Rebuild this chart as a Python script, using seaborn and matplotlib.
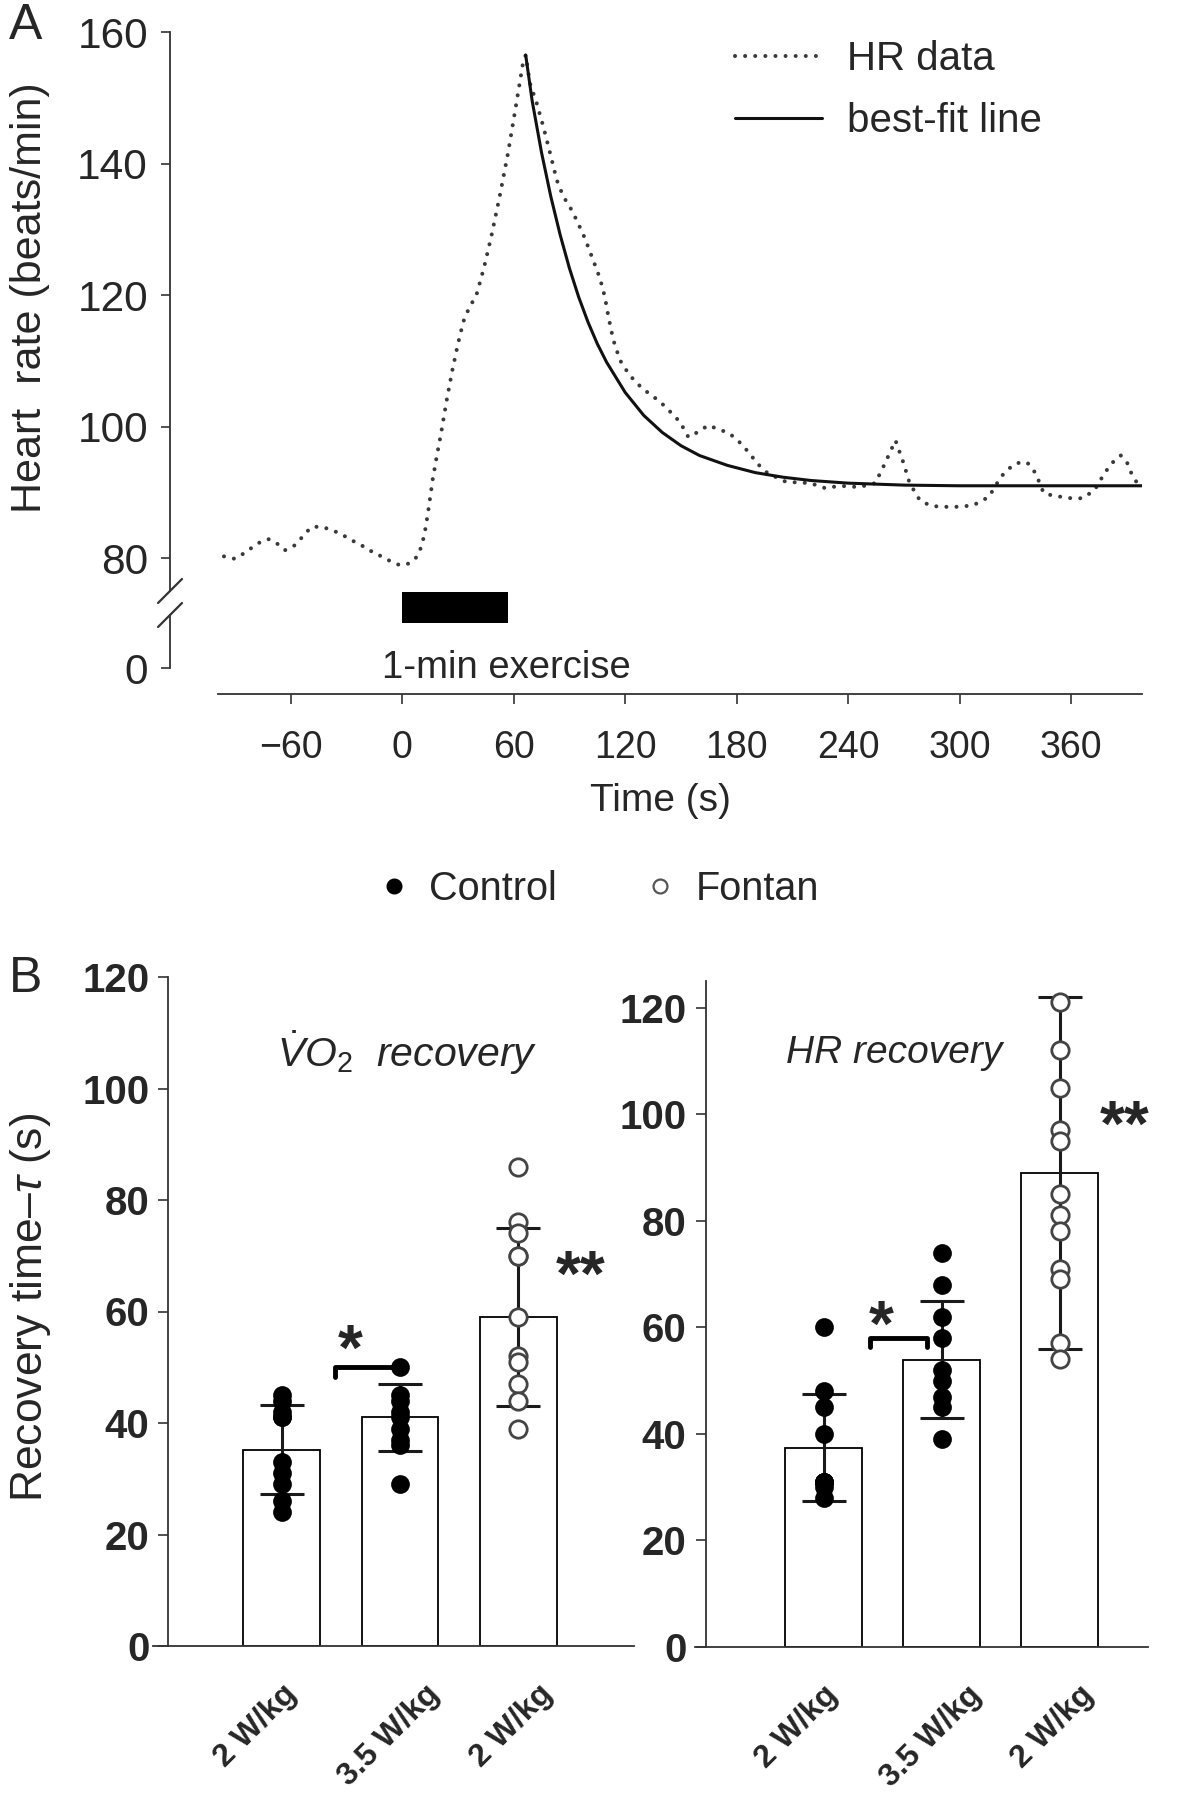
import numpy as np
import pandas as pd
import matplotlib.pyplot as plt
import matplotlib.transforms as mtransforms
from matplotlib.lines import Line2D
import seaborn as sns

# =========================
# Dados
# =========================

# Painel A - frequência cardíaca
hr_time = [-101, -95, -90, -84, -78, -72, -68, -63, -58, -53, -49, -44, -39, -33, -27,
           -22, -18, -14, -11, -6, -1, 4, 8, 10, 12, 14, 16.5, 19, 21, 24, 27, 30, 33,
           36, 40, 44, 48, 52.5, 57, 61.5, 65, 66.5, 68.8, 72.4, 76, 79.6, 83.2, 86.7,
           90.3, 93.9, 98.4, 102.8, 106.5, 109.1, 111, 113.6, 117.2, 121.7, 126.2, 131.6,
           138.7, 144.1, 149.5, 154, 159.3, 164.7, 169.2, 176, 182, 187, 191, 196.7,
           206.5, 219.6, 228, 235, 245.8, 254.5, 258.9, 265.4, 269.8, 273, 278.5, 284,
           289.5, 298, 307, 315.6, 322.2, 328.7, 333, 336.4, 340.8, 345.1, 350, 355, 360,
           365.9, 372.4, 377.8, 382, 386.6, 390, 393, 396.5]
hr_bpm = [80.7, 80.2, 79.9, 80.9, 82.2, 82.9, 82.4, 81.2, 81.9, 83.4, 84.7, 84.8, 84.4,
          83.7, 82.7, 82.0, 81.2, 80.8, 80.2, 79.5, 78.9, 79.2, 80.2, 81.5, 83.5, 87, 92,
          96, 99, 104, 108.5, 112.5, 116, 118, 120, 124.1, 128.9, 135, 141.6, 149.2,
          155.2, 156.5, 152.2, 149.2, 145.6, 141.6, 137.5, 135, 133.4, 131.4, 128.6,
          125.3, 122.5, 119.7, 116.7, 113.2, 110.1, 108.1, 106.6, 105.3, 103.8, 102.3,
          100.7, 98.4, 99.2, 100.2, 99.7, 99, 97.5, 95.9, 94.4, 92.9, 91.6, 91.4, 90.6,
          91, 90.8, 91.4, 93.9, 97.9, 94.4, 91.4, 88.8, 88.0, 87.8, 87.8, 88, 89.3, 92.4,
          94.2, 94.6, 94.5, 92.9, 89.9, 89.5, 89.3, 89.1, 89.1, 90.3, 92.9, 94.5, 95.6,
          94.5, 92.4, 91]

fit_time = [66.5, 70, 75, 80, 85, 90, 95, 100, 105, 110, 120, 130, 140, 150, 160, 175,
            190, 205, 220, 240, 270, 300, 350, 398]
fit_bpm = [156.5, 149.5, 141.7, 135, 129.2, 124.1, 119.7, 115.9, 112.6, 109.8, 105.2,
           101.7, 99.1, 97.1, 95.6, 94.1, 93.0, 92.3, 91.8, 91.4, 91.1, 91.0, 91.0, 91.0]

exercise_start = 0
exercise_end = 57
time_ticks = [-60, 0, 60, 120, 180, 240, 300, 360]
hr_ticks = [80, 100, 120, 140, 160]

# Painel B - tempos de recuperação
conditions = ["ctrl_2", "ctrl_35", "fontan_2"]
condition_labels = ["2 W/kg", "3.5 W/kg", "2 W/kg"]
condition_group = ["Control", "Control", "Fontan"]

vo2_means = [35.2, 41.0, 59.0]
vo2_sds = [8.0, 6.0, 16.0]
vo2_ctrl_2 = [45, 44, 42, 41, 41, 33, 31, 29, 26, 24]
vo2_ctrl_35 = [50, 45, 44, 42, 41, 39, 37, 36, 29]
vo2_fontan_2 = [86, 76, 74, 70, 70, 59, 52, 51, 47, 44, 39]

hrr_means = [37.4, 53.9, 89.0]
hrr_sds = [10.0, 11.0, 33.0]
hrr_ctrl_2 = [60, 48, 45, 40, 31, 31, 31, 31, 30, 28]
hrr_ctrl_35 = [74, 68, 62, 58, 52, 50, 47, 45, 39]
hrr_fontan_2 = [121, 112, 105, 97, 95, 85, 81, 78, 71, 69, 57, 54]

tau_ticks = [0, 20, 40, 60, 80, 100, 120]

# =========================
# Estilo
# =========================

sns.set_style("ticks")
plt.rcParams["font.family"] = ["Liberation Sans", "DejaVu Sans"]
plt.rcParams["mathtext.fontset"] = "custom"
plt.rcParams["mathtext.rm"] = "Liberation Sans"
plt.rcParams["mathtext.it"] = "Liberation Sans:italic"
plt.rcParams["mathtext.bf"] = "Liberation Sans:bold"

W, H = 1182, 1800
DPI = 100
fig = plt.figure(figsize=(W / DPI, H / DPI), dpi=DPI)

axis_color = "#333333"
px = 72 / DPI  # pixel -> pontos


def fig_box(x0, y0, x1, y1):
    # caixa em pixels a partir do canto superior esquerdo
    return [x0 / W, 1 - y1 / H, (x1 - x0) / W, (y1 - y0) / H]


# =========================
# Painel A
# =========================

ax_top = fig.add_axes(fig_box(218, 32, 1142, 591))
ax_bot = fig.add_axes(fig_box(218, 591, 1142, 694))

sns.lineplot(x=hr_time, y=hr_bpm, ax=ax_top, color="#3a3a3a", linewidth=2.9,
             linestyle=(0, (0.01, 2.5)), dash_capstyle="round", sort=False,
             errorbar=None, label="HR data")
sns.lineplot(x=fit_time, y=fit_bpm, ax=ax_top, color="#111111", linewidth=2.2,
             sort=False, errorbar=None, label="best-fit line")

ax_top.set_xlim(-99, 398)
ax_top.set_ylim(75, 160)
ax_top.set_yticks(hr_ticks)
ax_top.set_xticks([])
for s in ["top", "right", "bottom"]:
    ax_top.spines[s].set_visible(False)
ax_top.spines["left"].set_position(("outward", 48 * px))
ax_top.spines["left"].set_color(axis_color)
ax_top.spines["left"].set_linewidth(1.3)
ax_top.tick_params(axis="y", direction="out", length=9 * px, width=1.2,
                   pad=13 * px, labelsize=30.5, color=axis_color)
ax_top.set_xlabel("")
ax_top.set_ylabel("")

ax_top.legend(handles=ax_top.get_lines()[:2], labels=["HR data", "best-fit line"],
              loc="upper left", bbox_to_anchor=(735 / W, 1 - 40 / H),
              bbox_transform=fig.transFigure, frameon=False, fontsize=29,
              handlelength=2.15, handletextpad=0.62, labelspacing=0.6,
              borderpad=0, borderaxespad=0)

ax_bot.set_xlim(-99, 398)
ax_bot.set_ylim(-2.524, 7.476)
ax_bot.set_yticks([0])
ax_bot.set_xticks(time_ticks)
for s in ["top", "right"]:
    ax_bot.spines[s].set_visible(False)
ax_bot.spines["left"].set_position(("outward", 48 * px))
ax_bot.spines["left"].set_bounds(0, 5.146)
for s in ["left", "bottom"]:
    ax_bot.spines[s].set_color(axis_color)
    ax_bot.spines[s].set_linewidth(1.3)
ax_bot.tick_params(axis="y", direction="out", length=9 * px, width=1.2,
                   pad=13 * px, labelsize=30.5, color=axis_color)
ax_bot.tick_params(axis="x", direction="out", length=10 * px, width=1.2,
                   pad=26 * px, labelsize=27, color=axis_color)
ax_bot.set_xlabel("Time (s)", fontsize=28)
ax_bot.xaxis.set_label_coords(0.479, -0.86)

# barra de exercício
ax_bot.axvspan(exercise_start, exercise_end, ymin=0.689, ymax=0.99, color="black", lw=0)
ax_bot.text(56, 0, "1-min exercise", ha="center", va="center", fontsize=27.5)

# marcas de quebra do eixo
sx = -48 / 924
dx, dy = 12 / 924, 12 / 103
for yc in [1.0, 0.767]:
    ax_bot.plot([sx - dx, sx + dx], [yc - dy, yc + dy], transform=ax_bot.transAxes,
                color=axis_color, lw=1.6, clip_on=False)

fig.text(30 / W, 1 - 298 / H, "Heart  rate (beats/min)", rotation=90,
         ha="center", va="center", fontsize=31)
fig.text(26 / W, 1 - 26 / H, "A", ha="center", va="center", fontsize=36)

# =========================
# Painel B
# =========================

fig.legend(handles=[Line2D([], [], marker="o", ls="", color="black", markersize=10.5),
                    Line2D([], [], marker="o", ls="", markerfacecolor="white",
                           markeredgecolor="#555555", markeredgewidth=1.6, markersize=10)],
           labels=["Control", "Fontan"], ncol=2, frameon=False, loc="center left",
           bbox_to_anchor=(374 / W, 1 - 889 / H), handlelength=1.0,
           handletextpad=0.4, columnspacing=2.1, borderpad=0, borderaxespad=0,
           fontsize=28.5)

axL = fig.add_axes(fig_box(153, 977, 634, 1646))
axR = fig.add_axes(fig_box(695, 981, 1148, 1647))

# deslocamento (px) de cada rótulo inclinado em relação ao centro da barra
label_dx = [10, 35, 30]
label_dy = 44


def recovery_panel(ax, means, sds, pts, ylim_top, xlim_right, spine_x):
    df_bar = pd.DataFrame({"cond": conditions, "tau": means})
    sns.barplot(data=df_bar, x="cond", y="tau", order=conditions, color="white",
                saturation=1, edgecolor="black", linewidth=1.3, width=0.65,
                errorbar=None, ax=ax, zorder=1)
    ax.errorbar(np.arange(len(conditions)), means, yerr=sds, fmt="none",
                ecolor="#1a1a1a", elinewidth=2.2, capsize=16, capthick=2.2, zorder=3)

    rows = []
    for cond, grp, vals in zip(conditions, condition_group, pts):
        for v in vals:
            rows.append({"cond": cond, "tau": v, "group": grp})
    df_pts = pd.DataFrame(rows)
    sns.stripplot(data=df_pts[df_pts["group"] == "Control"], x="cond", y="tau",
                  order=conditions, jitter=False, color="black", size=13.5,
                  ax=ax, zorder=4)
    sns.stripplot(data=df_pts[df_pts["group"] == "Fontan"], x="cond", y="tau",
                  order=conditions, jitter=False, color="white", edgecolor="#444444",
                  linewidth=2, size=12.5, ax=ax, zorder=4)

    ax.set_xlim(-1.09, xlim_right)
    ax.set_ylim(0, ylim_top)
    ax.set_yticks(tau_ticks)
    ax.set_xticks(range(len(conditions)))
    ax.set_xticklabels([])
    # rótulos inclinados como texto, para poder deslocá-los
    for i, (lab, ddx) in enumerate(zip(condition_labels, label_dx)):
        off = mtransforms.ScaledTranslation(ddx / DPI, -label_dy / DPI, fig.dpi_scale_trans)
        ax.text(i, 0, lab, transform=ax.get_xaxis_transform() + off, rotation=45,
                ha="right", va="center", rotation_mode="anchor", fontsize=23,
                fontweight="bold")
    ax.set_xlabel("")
    ax.set_ylabel("")
    for s in ["top", "right"]:
        ax.spines[s].set_visible(False)
    ax.spines["left"].set_position(("data", spine_x))
    for s in ["left", "bottom"]:
        ax.spines[s].set_color(axis_color)
        ax.spines[s].set_linewidth(1.3)
    ax.tick_params(axis="x", length=0)
    ax.tick_params(axis="y", direction="out", length=10 * px, width=1.2,
                   pad=9 * px, labelsize=29, color=axis_color)
    for lbl in ax.get_yticklabels():
        lbl.set_fontweight("bold")


recovery_panel(axL, vo2_means, vo2_sds, [vo2_ctrl_2, vo2_ctrl_35, vo2_fontan_2],
               120, 2.98, -0.96)
recovery_panel(axR, hrr_means, hrr_sds, [hrr_ctrl_2, hrr_ctrl_35, hrr_fontan_2],
               125, 2.75, -1.0)

# significância
star_kw = dict(ha="center", va="baseline", fontsize=46, fontweight="bold")
axL.plot([0.45, 0.45, 1.0], [48.3, 50, 50], color="black", lw=3.5, zorder=3)
axL.text(0.58, 49.5, "*", **star_kw)
axL.text(2.53, 62.8, "**", **star_kw)
axR.plot([0.39, 0.39, 0.88, 0.88], [56.3, 58, 58, 56.3], color="black", lw=3.5, zorder=3)
axR.text(0.49, 56.5, "*", **star_kw)
axR.text(2.55, 94.0, "**", **star_kw)

axL.text(1.06, 106.4, r"$\dot{V}O_2$  recovery", ha="center", va="center",
         fontsize=29.5, style="italic")
axR.text(0.60, 111.4, "HR recovery", ha="center", va="center", fontsize=28,
         style="italic")

fig.text(31 / W, 1 - 1307 / H, r"Recovery time–$\tau$ (s)", rotation=90,
         ha="center", va="center", fontsize=32)
fig.text(26 / W, 1 - 979 / H, "B", ha="center", va="center", fontsize=36)

plt.savefig("out.png", dpi=DPI)
